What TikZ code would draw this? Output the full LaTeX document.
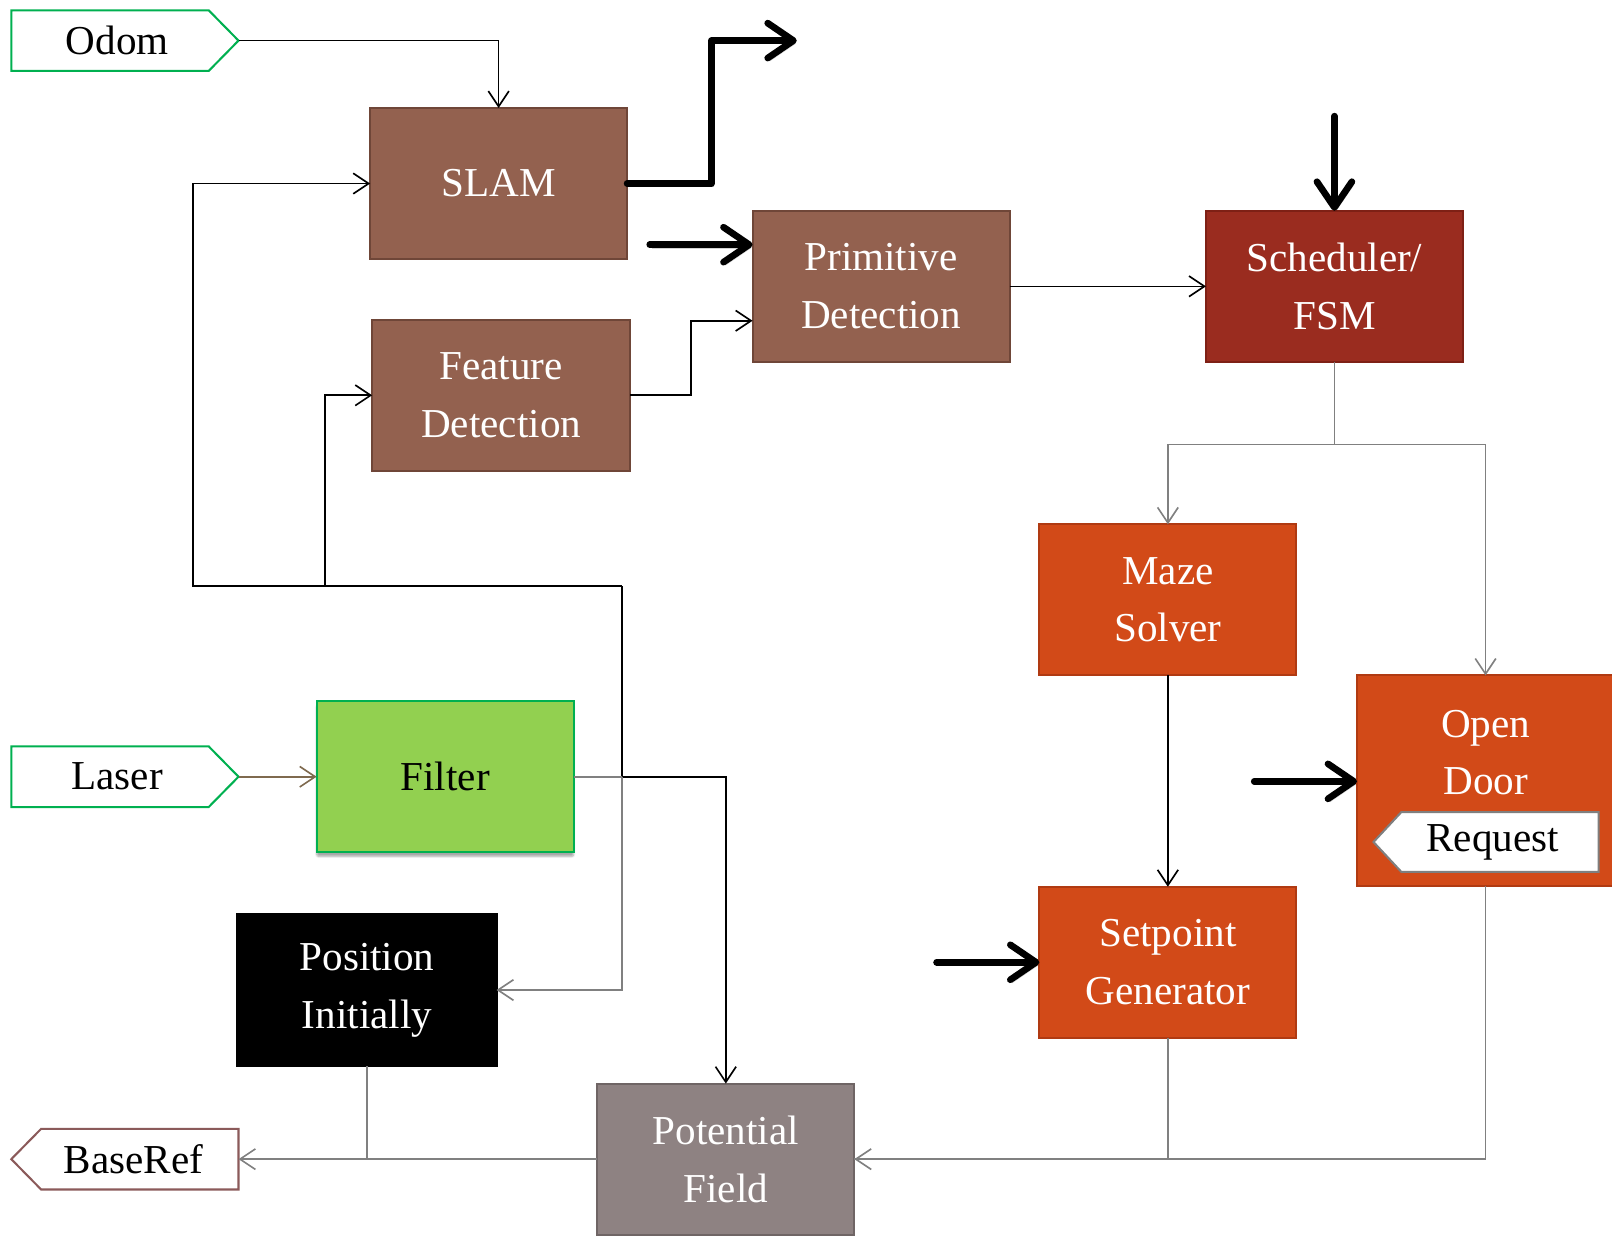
\documentclass[tikz,border=0pt]{standalone}
\usepackage{fontspec}
\setmainfont{Liberation Serif}
\usetikzlibrary{arrows.meta,shadows.blur}
\definecolor{brownbox}{HTML}{93614F}
\definecolor{brownline}{HTML}{6F4638}
\definecolor{schedfill}{HTML}{9A2C1F}
\definecolor{schedline}{HTML}{7E2015}
\definecolor{orangefill}{HTML}{D24A18}
\definecolor{orangeline}{HTML}{B03A12}
\definecolor{potfill}{HTML}{8E8282}
\definecolor{potline}{HTML}{6F6565}
\definecolor{grnline}{HTML}{00B050}
\definecolor{grnfill}{HTML}{92D050}
\definecolor{baserefline}{HTML}{8B5A5A}
\definecolor{conngray}{HTML}{808080}
\definecolor{laserline}{HTML}{7F6A4F}
\definecolor{reqline}{HTML}{7F7F7F}
\begin{document}
\begin{tikzpicture}[x=1pt,y=-1pt,
  box/.style={rectangle, minimum width=250pt, minimum height=147pt, line width=2pt,
    align=center, inner sep=0pt, outer sep=0pt, text=white,
    font=\fontsize{40}{56}\selectfont},
  brownnode/.style={box, fill=brownbox, draw=brownline},
  orangenode/.style={box, fill=orangefill, draw=orangeline},
  lbl/.style={align=center, inner sep=0pt, font=\fontsize{40}{56}\selectfont},
  tagshape/.style={line width=2pt, fill=white},
  thinarr/.style={line width=1.6pt, -{Straight Barb[length=15pt,width=20pt]}},
  thinline/.style={line width=1.6pt},
  grayarr/.style={thinarr, draw=conngray},
  grayline/.style={thinline, draw=conngray},
  thickarr/.style={line width=6.5pt, line cap=round, line join=round,
    -{Straight Barb[length=25pt,width=34pt,round]},
    preaction={draw=black, opacity=0.18, transform canvas={shift={(2pt,-3pt)}}}},
]
\useasboundingbox (0,0) rectangle (1568,1203);

% ---- boxes ----
\node[brownnode] (slam) at (485,178.5) {SLAM};
\node[brownnode] (prim) at (857,278.5) {Primitive\\Detection};
\node[brownnode, minimum width=251pt] (feat) at (487.5,384.5) {Feature\\Detection};
\node[box, fill=schedfill, draw=schedline] (sched) at (1298,278.5) {Scheduler/\\FSM};
\node[orangenode] (maze) at (1136,583.5) {Maze\\Solver};
\node[orangenode, minimum height=205pt] (door) at (1445,759.5) {};
\node[lbl, text=white] (doortext) at (1445,732) {Open\\Door};
\node[orangenode] (setp) at (1136,936) {Setpoint\\Generator};
\node[box, fill=grnfill, draw=grnline, text=black,
  blur shadow={shadow xshift=0pt, shadow yshift=-4pt, shadow blur steps=6, shadow blur extra rounding=2pt, shadow opacity=35}] (filter) at (433,755.5) {Filter};
\node[box, minimum width=252pt, minimum height=148pt, fill=black, draw=black] (posinit) at (357,963) {Position\\Initially};
\node[box, fill=potfill, draw=potline] (pot) at (706,1127.5) {Potential\\Field};

% ---- tags ----
\draw[tagshape, draw=grnline] (11,10) -- (203,10) -- (232,39.5) -- (203,69) -- (11,69) -- cycle;
\node[lbl] (odom) at (114,39.5) {Odom};
\coordinate (odomR) at (232,39.5);

\draw[tagshape, draw=grnline] (11,726) -- (203,726) -- (232,755.5) -- (203,785) -- (11,785) -- cycle;
\node[lbl] (laser) at (114,755.5) {Laser};
\coordinate (laserR) at (232,755.5);

\draw[tagshape, draw=baserefline] (40,1098) -- (232,1098) -- (232,1157) -- (40,1157) -- (11,1127.5) -- cycle;
\node[lbl] (baseref) at (130,1127.5) {BaseRef};
\coordinate (baserefR) at (232,1127.5);

\draw[tagshape, draw=reqline] (1363,790) -- (1555,790) -- (1555,848) -- (1363,848) -- (1336,819) -- cycle;
\node[lbl] (request) at (1452,819) {Request};

% ---- free ends ----
\coordinate (slamout) at (775,39.5);
\coordinate (inprim) at (632,238);
\coordinate (insched) at (1298,113);
\coordinate (indoor) at (1220,760);
\coordinate (insetp) at (911,936);
\coordinate (fj) at (605,755.5);
\coordinate (fk) at (605,570);
\coordinate (fl) at (316,570);
\coordinate (sj) at (1298,432.5);

% ---- connectors ----
\draw[thinarr] (odomR) -| (slam.north);
\draw[thickarr] (slam.east) -- (692,178.5) -- (692,39.5) -- (slamout);
\draw[thickarr] (inprim) -- (inprim -| prim.west);
\draw[thickarr] (insched) -- (sched.north);
\draw[thickarr] (indoor) -- (indoor -| door.west);
\draw[thickarr] (insetp) -- (setp.west);

\draw[thinarr] (feat.east) -- (672,384.5) |- ([yshift=-33.5pt]prim.west);
\draw[thinarr] (prim.east) -- (sched.west);

\draw[grayline] (sched.south) -- (sj);
\draw[grayarr] (sj) -| (maze.north);
\draw[grayarr] (sj) -| (door.north);
\draw[thinarr] (maze.south) -- (setp.north);

\draw[grayline] (door.south) |- (pot.east);
\draw[grayarr] (setp.south) |- (pot.east);
\draw[grayarr] (pot.west) -- (baserefR);
\draw[grayline] (posinit.south) -- (posinit.south |- pot.west);

\draw[thinarr, draw=laserline] (laserR) -- (filter.west);

\draw[thinline] (fk) -- (fj);
\draw[thinarr] (fj) -| (pot.north);
\draw[thinarr] (fk) -- (fl) |- (feat.west);
\draw[thinarr] (fl) -- (188,570) |- (slam.west);
\draw[grayline] (filter.east) -- (fj);
\draw[grayarr] (fj) |- (posinit.east);
\end{tikzpicture}
\end{document}
